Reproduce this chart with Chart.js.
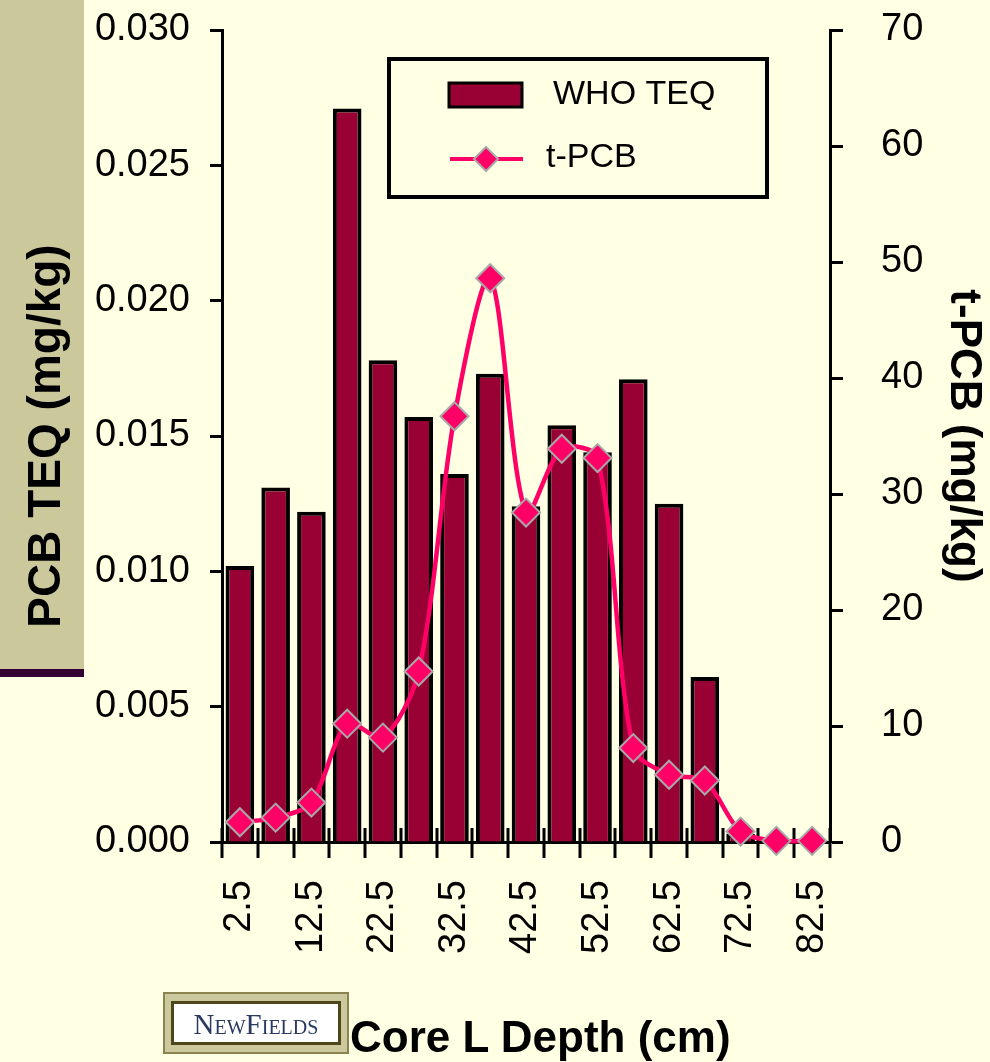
<!DOCTYPE html>
<html>
<head>
<meta charset="utf-8">
<script src="https://cdn.jsdelivr.net/npm/chart.js@4/dist/chart.umd.min.js"></script>
<style>
html,body{margin:0;padding:0;background:#FFFFE3;}
#wrap{position:relative;width:990px;height:1062px;overflow:hidden;background:#FFFFE3;}
#c{position:absolute;left:0;top:0;}
#xtitle{position:absolute;left:350px;top:1012px;font:bold 44px "Liberation Sans",Arial,sans-serif;color:#000;white-space:nowrap;line-height:50px;}
#logo{position:absolute;left:163px;top:992px;width:186px;height:62px;box-sizing:border-box;background:#CCC99E;border:2px solid #8C8450;}
#logoin{position:absolute;left:6px;top:7px;right:6px;bottom:7px;background:#fff;border:3px solid #4E4818;box-sizing:border-box;text-align:center;font:29px "Liberation Serif","DejaVu Serif",serif;font-variant:small-caps;letter-spacing:0px;color:#2A3A60;line-height:40px;white-space:nowrap;}
</style>
</head>
<body>
<div id="wrap">
<canvas id="c" width="990" height="1062"></canvas>
<div id="logo"><div id="logoin">NewFields</div></div>
<div id="xtitle">Core L Depth (cm)</div>
</div>
<script>
// ---- data ----
const depthLabels = ['2.5','7.5','12.5','17.5','22.5','27.5','32.5','37.5','42.5','47.5','52.5','57.5','62.5','67.5','72.5','77.5','82.5'];
const whoTeq = [0.0102, 0.0131, 0.0122, 0.0271, 0.0178, 0.0157, 0.0136, 0.0173, 0.0124, 0.0154, 0.0144, 0.0171, 0.0125, 0.0061, 0.0003, 0.0, 0.0];
const tPcb = [1.7, 2.1, 3.4, 10.2, 9.0, 14.7, 36.7, 48.6, 28.4, 33.9, 33.1, 8.1, 5.8, 5.3, 0.9, 0.1, 0.1];
const seriesNames = ['WHO TEQ', 't-PCB'];
const leftAxisTitle = 'PCB TEQ (mg/kg)';
const rightAxisTitle = 't-PCB (mg/kg)';

const BG = '#FFFFE3';
const BAR = '#990033';
const PINK = '#FF0066';
const FONT = '"Liberation Sans", Arial, sans-serif';

const bgPlugin = {
  id: 'bg',
  beforeDraw(chart) {
    const ctx = chart.ctx;
    ctx.save();
    ctx.fillStyle = BG;
    ctx.fillRect(0, 0, chart.width, chart.height);
    ctx.fillStyle = '#CBC99B';
    ctx.fillRect(0, 0, 84, 669);
    ctx.fillStyle = '#330033';
    ctx.fillRect(0, 669, 84, 8);
    ctx.restore();
  }
};

const xTickPlugin = {
  id: 'xticks',
  beforeDatasetsDraw(chart) {
    const xs = chart.scales.x;
    const ctx = chart.ctx;
    const n = depthLabels.length;
    const half = (xs.getPixelForValue(1) - xs.getPixelForValue(0)) / 2;
    const yb = chart.chartArea.bottom;
    ctx.save();
    ctx.strokeStyle = '#000';
    ctx.lineWidth = 3;
    for (let i = 0; i <= n; i++) {
      const x = Math.round(xs.getPixelForValue(0) - half + i * 2 * half);
      ctx.beginPath();
      ctx.moveTo(x, yb - 14);
      ctx.lineTo(x, yb + 16);
      ctx.stroke();
    }
    ctx.restore();
  }
};

const legendPlugin = {
  id: 'boxLegend',
  afterDraw(chart) {
    const ctx = chart.ctx;
    ctx.save();
    ctx.lineWidth = 4;
    ctx.strokeStyle = '#000';
    ctx.strokeRect(389, 59, 378, 138);
    // bar swatch
    ctx.fillStyle = BAR;
    ctx.fillRect(449, 83, 73, 24);
    ctx.lineWidth = 3;
    ctx.strokeRect(449, 83, 73, 24);
    // line swatch
    ctx.strokeStyle = PINK;
    ctx.lineWidth = 4;
    ctx.beginPath();
    ctx.moveTo(450, 159);
    ctx.lineTo(523, 159);
    ctx.stroke();
    ctx.beginPath();
    ctx.moveTo(486 - 12, 159);
    ctx.lineTo(486, 159 - 12);
    ctx.lineTo(486 + 12, 159);
    ctx.lineTo(486, 159 + 12);
    ctx.closePath();
    ctx.fillStyle = PINK;
    ctx.fill();
    ctx.strokeStyle = '#A8A8A8';
    ctx.lineWidth = 2;
    ctx.stroke();
    // text
    ctx.fillStyle = '#000';
    ctx.font = '34px ' + FONT;
    ctx.textBaseline = 'middle';
    ctx.textAlign = 'left';
    ctx.fillText(seriesNames[0], 553, 95);
    ctx.fillText(seriesNames[1], 546, 158);
    ctx.restore();
  }
};

const fitY = w => s => { s.width = w; s.paddingTop = 0; s.paddingBottom = 0; };

new Chart(document.getElementById('c'), {
  data: {
    labels: depthLabels,
    datasets: [
      {
        type: 'line',
        label: seriesNames[1],
        data: tPcb,
        yAxisID: 'y1',
        order: 1,
        borderColor: PINK,
        borderWidth: 4.5,
        tension: 0.3,
        pointStyle: 'rectRot',
        pointRadius: 14,
        pointBackgroundColor: PINK,
        pointBorderColor: '#A8A8A8',
        pointBorderWidth: 2,
        clip: 20
      },
      {
        type: 'bar',
        label: seriesNames[0],
        data: whoTeq,
        yAxisID: 'y',
        order: 2,
        backgroundColor: BAR,
        borderColor: '#000',
        borderWidth: 4,
        barPercentage: 0.8,
        categoryPercentage: 1.0
      }
    ]
  },
  options: {
    responsive: false,
    animation: false,
    layout: { padding: { top: 30, left: 0, right: 0, bottom: 0 } },
    plugins: { legend: { display: false }, tooltip: { enabled: false } },
    scales: {
      x: {
        type: 'category',
        offset: true,
        grid: { display: false, drawTicks: false },
        border: { display: true, color: '#000', width: 3 },
        ticks: {
          autoSkip: false, maxRotation: 90, minRotation: 90, padding: 38,
          color: '#000', font: { family: FONT, size: 38 },
          callback: (v, i) => (i % 2 === 0 ? depthLabels[i] : '')
        },
        afterFit: s => { s.height = 220; s.paddingLeft = 0; s.paddingRight = 0; }
      },
      y: {
        position: 'left',
        min: 0, max: 0.03,
        ticks: {
          stepSize: 0.005, padding: 20, color: '#000',
          font: { family: FONT, size: 38 },
          callback: v => Number(v).toFixed(3)
        },
        grid: { drawOnChartArea: false, tickLength: 12, tickWidth: 3, tickColor: '#000', color: '#000' },
        border: { color: '#000', width: 3 },
        title: { display: true, text: leftAxisTitle, color: '#000', font: { family: FONT, size: 46, weight: 'bold' }, padding: { top: 20, bottom: 0 } },
        afterFit: fitY(222)
      },
      y1: {
        position: 'right',
        min: 0, max: 70,
        ticks: { stepSize: 10, padding: 38, color: '#000', font: { family: FONT, size: 38 } },
        grid: { drawOnChartArea: false, tickLength: 13, tickWidth: 3, tickColor: '#000', color: '#000' },
        border: { color: '#000', width: 3 },
        title: { display: true, text: rightAxisTitle, color: '#000', font: { family: FONT, size: 44, weight: 'bold' }, padding: { top: 0, bottom: 0 } },
        afterFit: fitY(160)
      }
    }
  },
  plugins: [bgPlugin, xTickPlugin, legendPlugin]
});
</script>
</body>
</html>
